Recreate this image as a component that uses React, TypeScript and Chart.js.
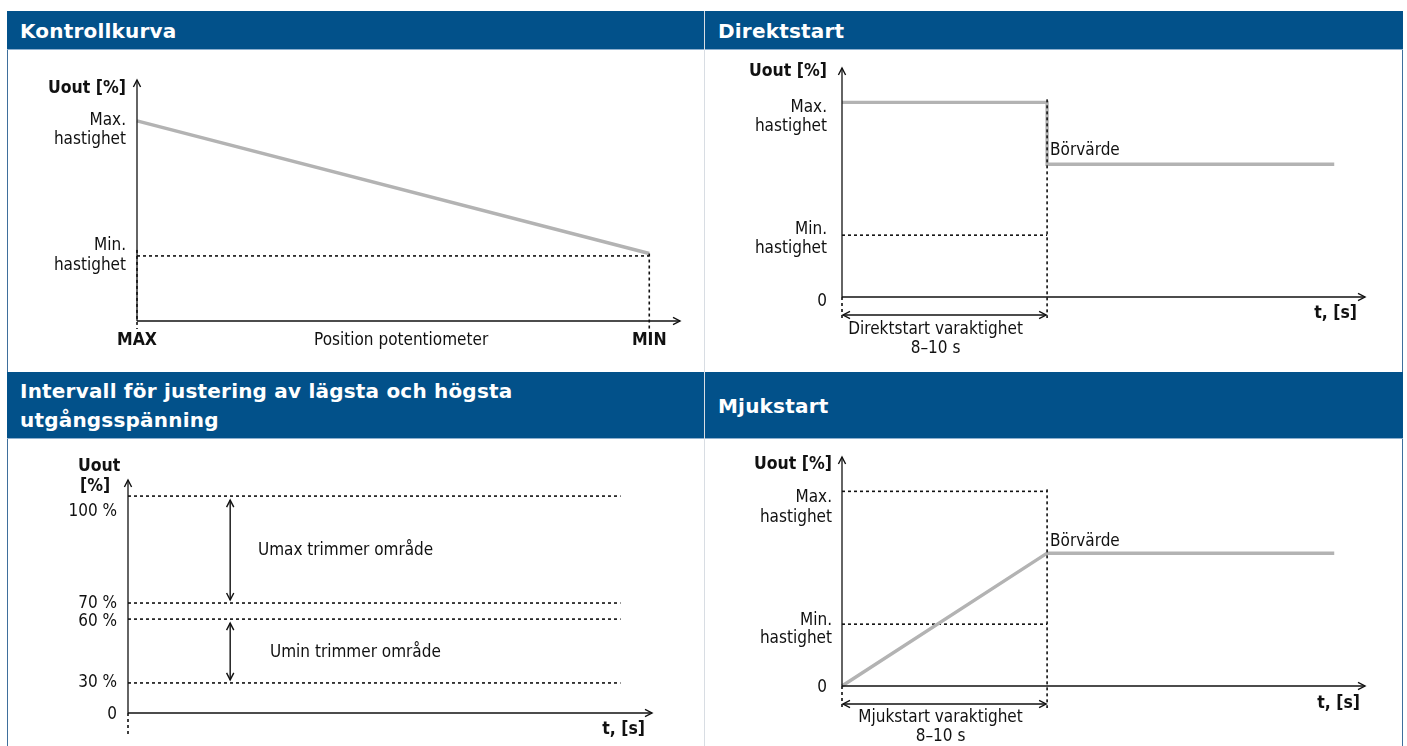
import React, { useEffect, useRef } from 'react';
import { Chart, registerables, LinearScale } from 'chart.js';

// ---------------- data ----------------
// Kontrollkurva: potentiometer position (MAX -> MIN) vs output level
const controlPosition = [0, 100];
const controlOutput = [83, 28];
const controlMinLevel = 27;

// Direktstart: time vs output level
const directTime = [0, 10, 10, 24];
const directOutput = [85, 85, 58, 58];
const directDuration = 10;
const directMinLevel = 27;

// Mjukstart: time vs output level
const softTime = [0, 10, 24];
const softOutput = [0, 58, 58];
const softDuration = 10;
const softMaxLevel = 85;
const softMinLevel = 27;

// Intervall: trimmer levels in percent
const intervalLevels = [30, 60, 70, 100];
const intervalLevelLabels = ['30 %', '60 %', '70 %', '100 %'];
const intervalLineEnd = 94;
const umaxRange = [100, 70];
const uminRange = [60, 30];

// schematic (non-linear) drawing of the percent axis: [value, fraction of axis]
const intervalAxisAnchors = [
  [0, 0],
  [30, 0.129],
  [60, 0.403],
  [70, 0.472],
  [100, 0.931],
  [108, 1],
];

class SchematicScale extends LinearScale {
  static id = 'schematic';
  static defaults = (LinearScale as any).defaults;
  getPixelForValue(value: number) {
    const a = intervalAxisAnchors;
    let frac = 0;
    for (let i = 1; i < a.length; i++) {
      const [v0, f0] = a[i - 1];
      const [v1, f1] = a[i];
      if (value <= v1 || i === a.length - 1) {
        frac = f0 + ((value - v0) / (v1 - v0)) * (f1 - f0);
        break;
      }
    }
    return this.getPixelForDecimal(frac);
  }
}

Chart.register(...registerables, SchematicScale as any);

// ---------------- styling helpers ----------------
const FONT = '"DejaVu Sans Condensed", "DejaVu Sans", sans-serif';
const HEAD_FONT = '"DejaVu Sans", sans-serif';
const BLUE = '#02518a';
const GRAY = '#b3b3b3';
const INK = '#111111';
const SIZE = 17;
const BOLD_SIZE = 17.5;

const pts = (xs: number[], ys: number[]) => xs.map((x, i) => ({ x, y: ys[i] }));

const grayLine = (data: any[]) => ({
  data,
  borderColor: GRAY,
  borderWidth: 3.4,
  pointRadius: 0,
  fill: false,
  tension: 0,
  clip: false as any,
  borderJoinStyle: 'miter' as const,
});
const dashLine = (data: any[]) => ({
  data,
  borderColor: INK,
  borderWidth: 1.6,
  borderDash: [3, 3],
  pointRadius: 0,
  fill: false,
  tension: 0,
  clip: false as any,
});

type Ctx = CanvasRenderingContext2D;

function seg(ctx: Ctx, x1: number, y1: number, x2: number, y2: number, w = 1.3, dash: number[] = []) {
  ctx.save();
  ctx.strokeStyle = INK;
  ctx.lineWidth = w;
  ctx.setLineDash(dash);
  ctx.beginPath();
  ctx.moveTo(x1, y1);
  ctx.lineTo(x2, y2);
  ctx.stroke();
  ctx.restore();
}
function dashed(ctx: Ctx, x1: number, y1: number, x2: number, y2: number) {
  seg(ctx, x1, y1, x2, y2, 1.6, [3, 3]);
}
function head(ctx: Ctx, x: number, y: number, dx: number, dy: number, len = 7, half = 3.6) {
  const bx = x - dx * len;
  const by = y - dy * len;
  const px = -dy;
  const py = dx;
  ctx.save();
  ctx.strokeStyle = INK;
  ctx.lineWidth = 1.4;
  ctx.setLineDash([]);
  ctx.beginPath();
  ctx.moveTo(bx + px * half, by + py * half);
  ctx.lineTo(x, y);
  ctx.lineTo(bx - px * half, by - py * half);
  ctx.stroke();
  ctx.restore();
}
function txt(ctx: Ctx, s: string, x: number, y: number, align: CanvasTextAlign = 'right', bold = false) {
  ctx.save();
  ctx.font = bold ? `bold ${BOLD_SIZE}px ${FONT}` : `${SIZE}px ${FONT}`;
  ctx.fillStyle = INK;
  ctx.textAlign = align;
  ctx.textBaseline = 'middle';
  ctx.fillText(s, x, y + 1.5);
  ctx.restore();
}
function axes(ctx: Ctx, ox: number, oy: number, top: number, right: number) {
  seg(ctx, ox, oy, ox, top);
  head(ctx, ox, top, 0, -1);
  seg(ctx, ox, oy, right, oy);
  head(ctx, right, oy, 1, 0);
}
function doubleArrow(ctx: Ctx, x1: number, y1: number, x2: number, y2: number) {
  seg(ctx, x1, y1, x2, y2, 1.4);
  const L = Math.hypot(x2 - x1, y2 - y1);
  const dx = (x2 - x1) / L;
  const dy = (y2 - y1) / L;
  head(ctx, x2, y2, dx, dy);
  head(ctx, x1, y1, -dx, -dy);
}

type Draw = (ctx: Ctx, x: (v: number) => number, y: (v: number) => number, area: any) => void;
const overlay = (draw: Draw) => ({
  id: 'overlay',
  afterDatasetsDraw(chart: any) {
    const xs = chart.scales.x;
    const ys = chart.scales.y;
    draw(chart.ctx, (v) => xs.getPixelForValue(v), (v) => ys.getPixelForValue(v), chart.chartArea);
  },
});

const baseOptions = (padding: any, x: any, y: any) => ({
  animation: false as const,
  responsive: false,
  maintainAspectRatio: false,
  events: [] as any[],
  layout: { padding },
  plugins: { legend: { display: false }, tooltip: { enabled: false } },
  scales: {
    x: { type: 'linear', display: false, ...x },
    y: { type: 'linear', display: false, ...y },
  },
});

// ---------------- chart configs ----------------
const makeControl = () => ({
  type: 'line',
  data: {
    datasets: [
      grayLine(pts(controlPosition, controlOutput)),
      dashLine(pts([0, controlPosition[1]], [controlMinLevel, controlMinLevel])),
    ],
  },
  options: baseOptions({ left: 129, right: 24, top: 30, bottom: 50 }, { min: 0, max: 106 }, { min: 0, max: 100 }),
  plugins: [
    overlay((ctx, x, y, a) => {
      const ox = x(0);
      const oy = y(0);
      axes(ctx, ox, oy, a.top, a.right);
      dashed(ctx, ox, y(controlMinLevel) - 6, ox, oy + 8);
      dashed(ctx, x(controlPosition[1]), y(controlOutput[1]), x(controlPosition[1]), oy + 8);
      const lx = ox - 11;
      txt(ctx, 'Uout [%]', lx, a.top + 7, 'right', true);
      txt(ctx, 'Max.', lx, y(controlOutput[0]) - 2);
      txt(ctx, 'hastighet', lx, y(controlOutput[0]) + 17);
      txt(ctx, 'Min.', lx, y(controlMinLevel) - 12);
      txt(ctx, 'hastighet', lx, y(controlMinLevel) + 8);
      txt(ctx, 'MAX', ox, oy + 18, 'center', true);
      txt(ctx, 'MIN', x(controlPosition[1]), oy + 18, 'center', true);
      txt(ctx, 'Position potentiometer', (ox + x(controlPosition[1])) / 2 + 8, oy + 18, 'center');
    }),
  ],
});

const makeDirect = () => ({
  type: 'line',
  data: {
    datasets: [
      grayLine(pts(directTime, directOutput)),
      dashLine(pts([0, directDuration], [directMinLevel, directMinLevel])),
    ],
  },
  options: baseOptions({ left: 137, right: 36, top: 18, bottom: 74 }, { min: 0, max: 25.5 }, { min: 0, max: 100 }),
  plugins: [
    overlay((ctx, x, y, a) => {
      const ox = x(0);
      const oy = y(0);
      axes(ctx, ox, oy, a.top, a.right);
      const dx = x(directDuration);
      dashed(ctx, dx, y(directOutput[0]) - 3, dx, oy + 21);
      dashed(ctx, ox, oy, ox, oy + 21);
      doubleArrow(ctx, ox + 1, oy + 18, dx - 1, oy + 18);
      const lx = ox - 15;
      txt(ctx, 'Uout [%]', lx, a.top + 2, 'right', true);
      txt(ctx, 'Max.', lx, y(directOutput[0]) + 4);
      txt(ctx, 'hastighet', lx, y(directOutput[0]) + 23);
      txt(ctx, 'Min.', lx, y(directMinLevel) - 7);
      txt(ctx, 'hastighet', lx, y(directMinLevel) + 12);
      txt(ctx, '0', lx, oy + 3);
      txt(ctx, 'Börvärde', dx + 3, y(directOutput[3]) - 15, 'left');
      txt(ctx, 't, [s]', a.right - 8, oy + 15, 'right', true);
      const mid = (ox + dx) / 2 - 9;
      txt(ctx, 'Direktstart varaktighet', mid, oy + 31, 'center');
      txt(ctx, '8–10 s', mid, oy + 50, 'center');
    }),
  ],
});

const makeInterval = () => ({
  type: 'line',
  data: {
    datasets: intervalLevels.map((lv) => dashLine(pts([0, intervalLineEnd], [lv, lv]))),
  },
  options: baseOptions(
    { left: 120, right: 52, top: 41, bottom: 33 },
    { min: 0, max: 100 },
    { type: 'schematic', min: 0, max: 108 },
  ),
  plugins: [
    overlay((ctx, x, y, a) => {
      const ox = x(0);
      const oy = y(0);
      axes(ctx, ox, oy, a.top, a.right);
      dashed(ctx, ox, oy, ox, oy + 22);
      const ax = x(19.5);
      doubleArrow(ctx, ax, y(umaxRange[0]) + 4, ax, y(umaxRange[1]) - 3);
      doubleArrow(ctx, ax, y(uminRange[0]) + 4, ax, y(uminRange[1]) - 3);
      txt(ctx, 'Uout', ox - 50, a.top - 15, 'left', true);
      txt(ctx, '[%]', ox - 48, a.top + 5, 'left', true);
      const lx = ox - 11;
      const offs = [-2, 1, -1, 14];
      intervalLevels.forEach((lv, i) => txt(ctx, intervalLevelLabels[i], lx, y(lv) + offs[i]));
      txt(ctx, '0', lx, oy);
      txt(ctx, 'Umax trimmer område', x(24.8), (y(umaxRange[0]) + y(umaxRange[1])) / 2, 'left');
      txt(ctx, 'Umin trimmer område', x(27.1), (y(uminRange[0]) + y(uminRange[1])) / 2, 'left');
      txt(ctx, 't, [s]', a.right - 7, oy + 15, 'right', true);
    }),
  ],
});

const makeSoft = () => ({
  type: 'line',
  data: {
    datasets: [
      grayLine(pts(softTime, softOutput)),
      dashLine(pts([0, softDuration], [softMaxLevel, softMaxLevel])),
      dashLine(pts([0, softDuration], [softMinLevel, softMinLevel])),
    ],
  },
  options: baseOptions({ left: 137, right: 36, top: 18, bottom: 60 }, { min: 0, max: 25.5 }, { min: 0, max: 100 }),
  plugins: [
    overlay((ctx, x, y, a) => {
      const ox = x(0);
      const oy = y(0);
      axes(ctx, ox, oy, a.top, a.right);
      const dx = x(softDuration);
      dashed(ctx, dx, y(softMaxLevel) - 2, dx, oy + 22);
      dashed(ctx, ox, oy, ox, oy + 22);
      doubleArrow(ctx, ox + 1, oy + 18, dx - 1, oy + 18);
      const lx = ox - 10;
      txt(ctx, 'Uout [%]', lx, a.top + 6, 'right', true);
      txt(ctx, 'Max.', lx, y(softMaxLevel) + 5);
      txt(ctx, 'hastighet', lx, y(softMaxLevel) + 25);
      txt(ctx, 'Min.', lx, y(softMinLevel) - 5);
      txt(ctx, 'hastighet', lx, y(softMinLevel) + 13);
      txt(ctx, '0', lx - 5, oy);
      txt(ctx, 'Börvärde', dx + 3, y(softOutput[2]) - 13, 'left');
      txt(ctx, 't, [s]', a.right - 5, oy + 16, 'right', true);
      const mid = (ox + dx) / 2 - 4;
      txt(ctx, 'Mjukstart varaktighet', mid, oy + 30, 'center');
      txt(ctx, '8–10 s', mid, oy + 49, 'center');
    }),
  ],
});

// ---------------- components ----------------
function ChartCanvas({ left, top, width, height, make }: { left: number; top: number; width: number; height: number; make: () => any }) {
  const ref = useRef<HTMLCanvasElement>(null);
  useEffect(() => {
    const chart = new Chart(ref.current as HTMLCanvasElement, make());
    return () => chart.destroy();
  }, []);
  return <canvas ref={ref} width={width} height={height} style={{ position: 'absolute', left, top, width, height }} />;
}

function Header({ left, top, width, height, lines }: { left: number; top: number; width: number; height: number; lines: string[] }) {
  return (
    <div
      style={{
        position: 'absolute',
        left,
        top,
        width,
        height,
        background: BLUE,
        borderBottom: '1px solid #8eb0cf',
        boxSizing: 'border-box',
        color: '#fff',
        fontFamily: HEAD_FONT,
        fontWeight: 'bold',
        fontSize: 20,
        letterSpacing: 0.2,
        lineHeight: '29px',
        display: 'flex',
        flexDirection: 'column',
        justifyContent: 'center',
        paddingLeft: 13,
        paddingTop: 2,
      }}
    >
      {lines.map((l, i) => (
        <div key={i}>{l}</div>
      ))}
    </div>
  );
}

export default function App() {
  return (
    <div style={{ position: 'absolute', left: 0, top: 0, width: 1407, height: 746, background: '#fff', overflow: 'hidden' }}>
      <div style={{ position: 'absolute', left: 7, top: 11, width: 1, height: 735, background: '#3f6f9c' }} />
      <div style={{ position: 'absolute', left: 1402, top: 11, width: 1, height: 735, background: '#3f6f9c' }} />
      <div style={{ position: 'absolute', left: 704, top: 11, width: 1, height: 735, background: '#d8dde3' }} />
      <Header left={7} top={11} width={697} height={39} lines={['Kontrollkurva']} />
      <Header left={705} top={11} width={698} height={39} lines={['Direktstart']} />
      <Header left={7} top={372} width={697} height={67} lines={['Intervall för justering av lägsta och högsta', 'utgångsspänning']} />
      <Header left={705} top={372} width={698} height={67} lines={['Mjukstart']} />
      <ChartCanvas left={8} top={50} width={696} height={321} make={makeControl} />
      <ChartCanvas left={705} top={50} width={696} height={321} make={makeDirect} />
      <ChartCanvas left={8} top={439} width={696} height={307} make={makeInterval} />
      <ChartCanvas left={705} top={439} width={696} height={307} make={makeSoft} />
    </div>
  );
}
